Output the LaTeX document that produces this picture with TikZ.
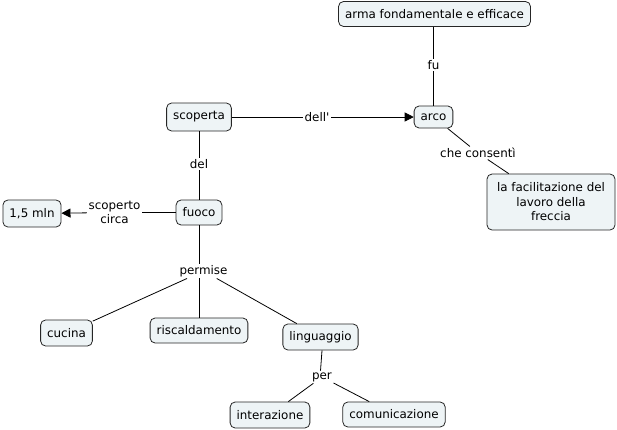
\documentclass[tikz,border=0pt]{standalone}
\usepackage{fontspec}
\setmainfont{DejaVu Sans}
\usetikzlibrary{arrows.meta}
\definecolor{boxfill}{RGB}{238,244,246}
\tikzset{
  x=1pt,y=-1pt,
  concept/.style={draw=black!85,fill=boxfill,rounded corners=5pt,line width=0.8pt,
    font=\fontsize{11.9}{14.5}\selectfont,inner xsep=6.5pt,inner ysep=3pt,minimum height=25pt,align=center},
  link/.style={font=\fontsize{11.9}{14.5}\selectfont,inner sep=1.5pt,align=center},
  conn/.style={line width=0.8pt,black},
  arr/.style={conn,-{Triangle[length=9pt,width=9pt]}}
}
\begin{document}
\begin{tikzpicture}
\useasboundingbox (0,0) rectangle (617,429);
% concepts
\node[concept] (arma) at (434.5,14) {arma fondamentale e efficace};
\node[concept,minimum height=22pt] (arco) at (433.5,117) {arco};
\node[concept,minimum width=128pt,minimum height=56pt] (facil) at (551,202) {la facilitazione del\\lavoro della\\freccia};
\node[concept,minimum height=28pt] (scoperta) at (199,117) {scoperta};
\node[concept] (fuoco) at (199,212.5) {fuoco};
\node[concept,minimum height=27pt] (mln) at (32,213.5) {1,5 mln};
\node[concept,minimum height=26pt] (cucina) at (66.5,333) {cucina};
\node[concept] (risc) at (199,330.5) {riscaldamento};
\node[concept,minimum height=26pt] (ling) at (320.5,337) {linguaggio};
\node[concept,minimum height=26pt] (inter) at (270,415) {interazione};
\node[concept] (comu) at (394,414.5) {comunicazione};
% linking phrases
\node[link] (dell) at (317,117) {dell\textquotesingle};
\node[link] (fu) at (433.5,65) {fu};
\node[link] (che) at (478,153) {che consentì};
\node[link] (del) at (199,164) {del};
\node[link] (scop) at (114.5,212.5) {scoperto\\circa};
\node[link] (perm) at (203.5,271) {permise};
\node[link] (per) at (322,377) {per};
% connectors
\draw[conn] (scoperta) -- (dell);
\draw[arr] (dell) -- (arco);
\draw[conn] (arma.south -| fu.north) -- (fu.north);
\draw[conn] (fu.south) -- (arco.north -| fu.south);
\draw[conn] (arco) -- (che);
\draw[conn] (che) -- (facil);
\draw[conn] (scoperta) -- (del);
\draw[conn] (del) -- (fuoco);
\draw[conn] (fuoco) -- (scop);
\draw[arr] (scop) -- (mln);
\draw[conn] (fuoco.south) -- (fuoco.south |- perm.north);
\draw[conn] (perm) -- (cucina);
\draw[conn] (fuoco.south |- perm.south) -- (fuoco.south |- risc.north);
\draw[conn] (perm) -- (ling);
\draw[conn] (per.north -| ling.south) -- (ling.south -| per.north);
\draw[conn] (per) -- (inter);
\draw[conn] (per) -- (comu);
\end{tikzpicture}
\end{document}
